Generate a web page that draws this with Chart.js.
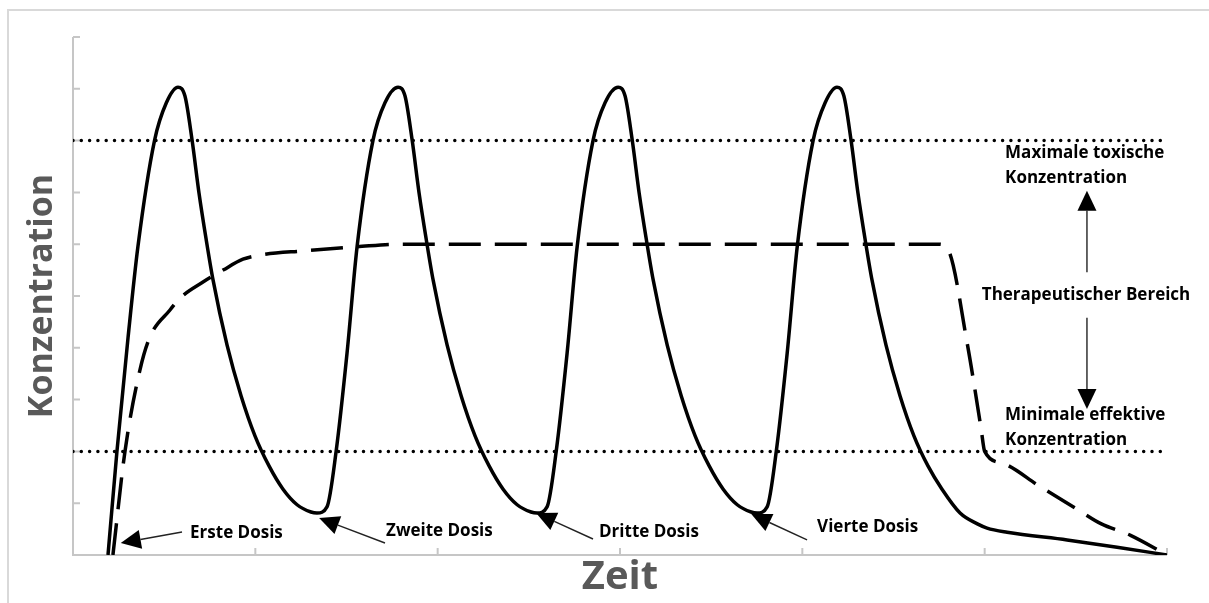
<!DOCTYPE html>
<html>
<head>
<meta charset="utf-8">
<script src="https://cdn.jsdelivr.net/npm/chart.js@4.4.1/dist/chart.umd.min.js"></script>
<style>
    html, body { margin: 0; padding: 0; background: #fff; }
</style>
</head>
<body>
<canvas id="chart" width="1209" height="603"></canvas>
<script>
// Konzentration bei wiederholter Gabe (durchgezogen) und Dauerinfusion (gestrichelt)
const doseTime = [
    0.192, 0.241, 0.302, 0.356, 0.447, 0.512, 0.576,
    0.614, 0.653, 0.691, 0.730, 0.768, 0.845, 0.922, 0.998, 1.075, 1.152, 1.229, 1.305, 1.338, 1.393,
    1.443, 1.503, 1.558, 1.645, 1.711, 1.783,
    1.821, 1.860, 1.898, 1.937, 1.975, 2.052, 2.129, 2.205, 2.282, 2.359, 2.436, 2.512, 2.545, 2.600,
    2.650, 2.710, 2.765, 2.852, 2.918, 2.990,
    3.028, 3.067, 3.105, 3.144, 3.182, 3.259, 3.336, 3.412, 3.489, 3.566, 3.643, 3.719, 3.752, 3.807,
    3.857, 3.917, 3.972, 4.059, 4.125, 4.190,
    4.228, 4.267, 4.305, 4.344, 4.382, 4.459, 4.536, 4.612, 4.689, 4.766, 4.865, 4.960, 5.013, 5.123, 5.452, 5.726, 6.000
];
const doseConc = [
    0, 2.0, 4.2, 5.95, 8.0, 8.73, 9.03,
    8.86, 8.01, 6.99, 6.10, 5.31, 4.05, 3.07, 2.30, 1.72, 1.27, 0.97, 0.83, 0.81, 0.93,
    2.0, 3.9, 5.95, 8.0, 8.73, 9.03,
    8.86, 8.01, 6.99, 6.10, 5.31, 4.05, 3.07, 2.30, 1.72, 1.27, 0.97, 0.83, 0.81, 0.93,
    2.0, 3.9, 5.95, 8.0, 8.73, 9.03,
    8.86, 8.01, 6.99, 6.10, 5.31, 4.05, 3.07, 2.30, 1.72, 1.27, 0.97, 0.83, 0.81, 0.93,
    2.0, 3.9, 5.95, 8.0, 8.73, 9.03,
    8.86, 8.01, 6.99, 6.10, 5.31, 4.05, 3.07, 2.30, 1.72, 1.27, 0.81, 0.60, 0.52, 0.44, 0.29, 0.15, 0
];

const infusionTime = [0.219, 0.285, 0.367, 0.422, 0.532, 0.587, 0.713, 0.823, 0.932, 1.026, 1.261, 1.558, 1.793, 4.745, 4.800, 4.904, 4.980, 5.000, 5.100, 5.300, 5.500, 5.640, 5.800, 6.000];
const infusionConc = [0, 2.0, 3.57, 4.21, 4.73, 4.96, 5.27, 5.50, 5.71, 5.79, 5.87, 5.95, 6.0, 6.0, 5.89, 4.09, 2.45, 2.0, 1.77, 1.33, 0.90, 0.60, 0.38, 0];

// Grenzen des therapeutischen Bereichs
const maxToxic = 8;
const minEffective = 2;
const limitStart = 0;
const limitEnd = 5.98;

const yTitle = 'Konzentration';
const xTitle = 'Zeit';

const doseLabels = ['Erste Dosis', 'Zweite Dosis', 'Dritte Dosis', 'Vierte Dosis'];
const rangeLabels = ['Maximale toxische', 'Konzentration', 'Therapeutischer Bereich', 'Minimale effektive', 'Konzentration'];

// Position der Beschriftungen in Achsenwerten
const doseLabelPos = [[0.642, 0.425], [1.717, 0.463], [2.885, 0.444], [4.081, 0.54]];
const doseArrows = [
    [[0.598, 0.444], [0.262, 0.232]],
    [[1.711, 0.232], [1.350, 0.714]],
    [[2.852, 0.309], [2.540, 0.811]],
    [[4.026, 0.290], [3.720, 0.790]]
];
const rangeLabelPos = [[5.112, 7.76, 'left'], [5.112, 7.28, 'left'], [5.556, 5.02, 'center'], [5.112, 2.70, 'left'], [5.112, 2.22, 'left']];
const rangeArrows = [
    [[5.561, 5.46], [5.561, 7.03]],
    [[5.561, 4.58], [5.561, 2.82]]
];

function toPoints(xs, ys) {
    return xs.map((x, i) => ({ x: x, y: ys[i] }));
}

function drawArrow(ctx, x1, y1, x2, y2) {
    const ang = Math.atan2(y2 - y1, x2 - x1);
    const len = 20, half = 9.5;
    const bx = x2 - len * Math.cos(ang);
    const by = y2 - len * Math.sin(ang);
    ctx.beginPath();
    ctx.moveTo(x1, y1);
    ctx.lineTo(bx, by);
    ctx.stroke();
    ctx.beginPath();
    ctx.moveTo(x2, y2);
    ctx.lineTo(bx + half * Math.sin(ang), by - half * Math.cos(ang));
    ctx.lineTo(bx - half * Math.sin(ang), by + half * Math.cos(ang));
    ctx.closePath();
    ctx.fill();
}

const extras = {
    id: 'extras',
    beforeDraw(chart) {
        const ctx = chart.ctx;
        ctx.save();
        ctx.strokeStyle = '#d9d9d9';
        ctx.lineWidth = 2;
        ctx.beginPath();
        ctx.moveTo(8, chart.height);
        ctx.lineTo(8, 10);
        ctx.lineTo(chart.width, 10);
        ctx.stroke();
        ctx.restore();
    },
    beforeDatasetsDraw(chart) {
        const { ctx, scales: { x, y } } = chart;
        ctx.save();
        ctx.strokeStyle = '#c6c6c6';
        ctx.lineWidth = 2;
        // Achsen
        ctx.beginPath();
        ctx.moveTo(x.left, y.top);
        ctx.lineTo(x.left, y.bottom);
        ctx.lineTo(x.right, y.bottom);
        ctx.stroke();
        // Teilstriche nach innen
        ctx.beginPath();
        x.ticks.forEach(t => {
            const px = x.getPixelForValue(t.value);
            ctx.moveTo(px, y.bottom);
            ctx.lineTo(px, y.bottom - 7);
        });
        y.ticks.forEach(t => {
            const py = y.getPixelForValue(t.value);
            ctx.moveTo(x.left, py);
            ctx.lineTo(x.left + 7, py);
        });
        ctx.stroke();
        ctx.restore();
    },
    afterDraw(chart) {
        const { ctx, chartArea, scales: { x, y } } = chart;
        ctx.save();

        // Achsentitel
        ctx.fillStyle = '#595959';
        ctx.textAlign = 'center';
        ctx.textBaseline = 'middle';
        ctx.font = 'bold 40px "Open Sans"';
        ctx.fillText(xTitle, (chartArea.left + chartArea.right) / 2, 578);
        ctx.translate(42, (chartArea.top + chartArea.bottom) / 2);
        ctx.rotate(-Math.PI / 2);
        ctx.font = 'bold 34px "Open Sans"';
        ctx.fillText(yTitle, 0, 0);
        ctx.setTransform(1, 0, 0, 1, 0, 0);

        // Beschriftungen
        ctx.fillStyle = '#000';
        ctx.font = 'bold 17px "Open Sans"';
        ctx.textBaseline = 'middle';
        ctx.textAlign = 'left';
        doseLabels.forEach((txt, i) => {
            const [vx, vy] = doseLabelPos[i];
            ctx.fillText(txt, x.getPixelForValue(vx), y.getPixelForValue(vy));
        });
        rangeLabels.forEach((txt, i) => {
            const [vx, vy, align] = rangeLabelPos[i];
            ctx.textAlign = align;
            ctx.fillText(txt, x.getPixelForValue(vx), y.getPixelForValue(vy));
        });

        // Pfeile
        ctx.strokeStyle = '#222';
        ctx.fillStyle = '#000';
        ctx.lineWidth = 1.4;
        doseArrows.concat(rangeArrows).forEach(([from, to]) => {
            drawArrow(ctx,
                x.getPixelForValue(from[0]), y.getPixelForValue(from[1]),
                x.getPixelForValue(to[0]), y.getPixelForValue(to[1]));
        });
        ctx.restore();
    }
};

const ctx = document.getElementById('chart').getContext('2d');
window.myChart = new Chart(ctx, {
    type: 'line',
    data: {
        datasets: [
            {
                label: 'Maximale toxische Konzentration',
                data: toPoints([limitStart, limitEnd], [maxToxic, maxToxic]),
                borderColor: '#000',
                borderWidth: 3.5,
                borderDash: [0, 8.3],
                borderCapStyle: 'round',
                pointRadius: 0
            },
            {
                label: 'Minimale effektive Konzentration',
                data: toPoints([limitStart, limitEnd], [minEffective, minEffective]),
                borderColor: '#000',
                borderWidth: 3.5,
                borderDash: [0, 8.3],
                borderCapStyle: 'round',
                pointRadius: 0
            },
            {
                label: 'Infusion',
                data: toPoints(infusionTime, infusionConc),
                borderColor: '#000',
                borderWidth: 3.5,
                borderDash: [32, 14],
                cubicInterpolationMode: 'monotone',
                pointRadius: 0
            },
            {
                label: 'Dosen',
                data: toPoints(doseTime, doseConc),
                borderColor: '#000',
                borderWidth: 3.5,
                borderJoinStyle: 'round',
                cubicInterpolationMode: 'monotone',
                pointRadius: 0
            }
        ]
    },
    options: {
        responsive: false,
        animation: false,
        layout: { padding: { left: 73, right: 42, top: 37, bottom: 48 } },
        plugins: {
            legend: { display: false },
            tooltip: { enabled: false }
        },
        scales: {
            x: {
                type: 'linear',
                min: 0,
                max: 6,
                ticks: { display: false, stepSize: 1 },
                grid: { display: false, drawTicks: false },
                border: { display: false },
                afterFit(s) { s.height = 0; }
            },
            y: {
                min: 0,
                max: 10,
                ticks: { display: false, stepSize: 1 },
                grid: { display: false, drawTicks: false },
                border: { display: false },
                afterFit(s) { s.width = 0; }
            }
        }
    },
    plugins: [extras]
});
</script>
</body>
</html>
